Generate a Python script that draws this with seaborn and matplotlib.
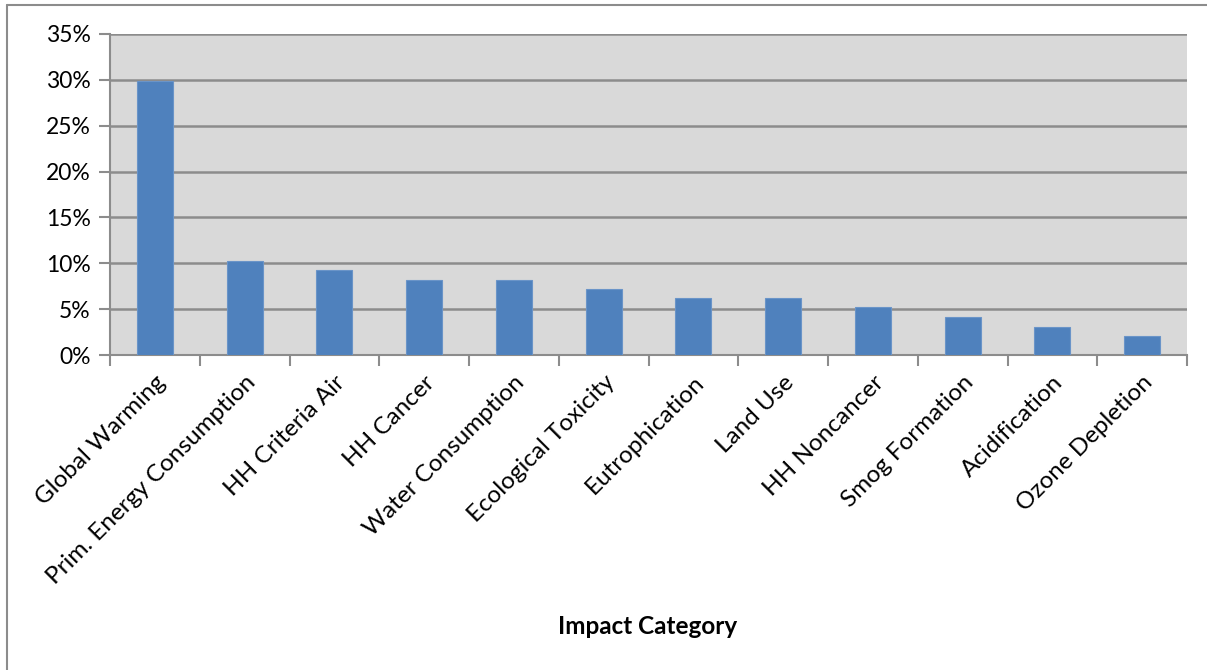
import matplotlib
matplotlib.use("Agg")
import matplotlib.pyplot as plt
import seaborn as sns
import pandas as pd
from matplotlib.ticker import FuncFormatter, MultipleLocator
from matplotlib.lines import Line2D

categories = ["Global Warming", "Prim. Energy Consumption", "HH Criteria Air", "HH Cancer",
              "Water Consumption", "Ecological Toxicity", "Eutrophication", "Land Use",
              "HH Noncancer", "Smog Formation", "Acidification", "Ozone Depletion"]
values = [29.9, 10.3, 9.3, 8.2, 8.2, 7.2, 6.2, 6.2, 5.2, 4.1, 3.1, 2.1]
x_label = "Impact Category"

df = pd.DataFrame({"category": categories, "value": values})

sns.set_theme(style="white")
plt.rcParams['font.family'] = ['Lato', 'DejaVu Sans']

W, H = 1207, 670
fig = plt.figure(figsize=(W / 100, H / 100), dpi=100)
ax = fig.add_axes([110 / W, 1 - 355 / H, (1187 - 110) / W, (355 - 34) / H])
ax.set_facecolor("#d9d9d9")

sns.barplot(data=df, x="category", y="value", color="#4f81bd", width=0.4,
            saturation=1, ax=ax, zorder=3)
for p in ax.patches:
    p.set_edgecolor("#6a94c8")
    p.set_linewidth(0.8)

ax.set_ylim(0, 35)
ax.set_xlim(-0.5, len(categories) - 0.5)
ax.yaxis.set_major_locator(MultipleLocator(5))
ax.yaxis.set_major_formatter(FuncFormatter(lambda v, _: f"{v:.0f}%"))
ax.grid(axis="y", color="#8c8c8c", linewidth=1.8, zorder=0)
ax.set_axisbelow(True)

for s in ["top", "right"]:
    ax.spines[s].set_visible(False)
for s in ["left", "bottom"]:
    ax.spines[s].set_color("#8c8c8c")
    ax.spines[s].set_linewidth(1.5)

# x ticks at category boundaries
ax.set_xticks([i + 0.5 for i in range(-1, len(categories))], minor=False)
ax.set_xticklabels([])
ax.tick_params(axis="x", which="major", length=8, width=1.5, color="#8c8c8c", direction="out", bottom=True)
ax.set_xticks(range(len(categories)), minor=True)
ax.set_xticklabels(categories, minor=True, rotation=45, ha="right", rotation_mode="anchor",
                   fontsize=17.5, color="black")
ax.tick_params(axis="x", which="minor", length=0, pad=12)
ax.tick_params(axis="y", length=8, width=1.5, color="#8c8c8c", direction="out", left=True,
               labelsize=16.5, labelcolor="black", pad=6)

ax.set_xlabel("")
ax.set_ylabel("")
fig.text(648 / W, 1 - 626 / H, x_label, ha="center", va="center", fontsize=17.5,
         fontweight="bold", color="black")

# outer border (left and top edges)
fig.add_artist(Line2D([7 / W, 7 / W], [0, 1 - 5 / H], transform=fig.transFigure,
                      color="#8c8c8c", linewidth=1.5))
fig.add_artist(Line2D([7 / W, 1], [1 - 5 / H, 1 - 5 / H], transform=fig.transFigure,
                      color="#8c8c8c", linewidth=1.5))

fig.savefig("out.png", dpi=100, facecolor="white")
